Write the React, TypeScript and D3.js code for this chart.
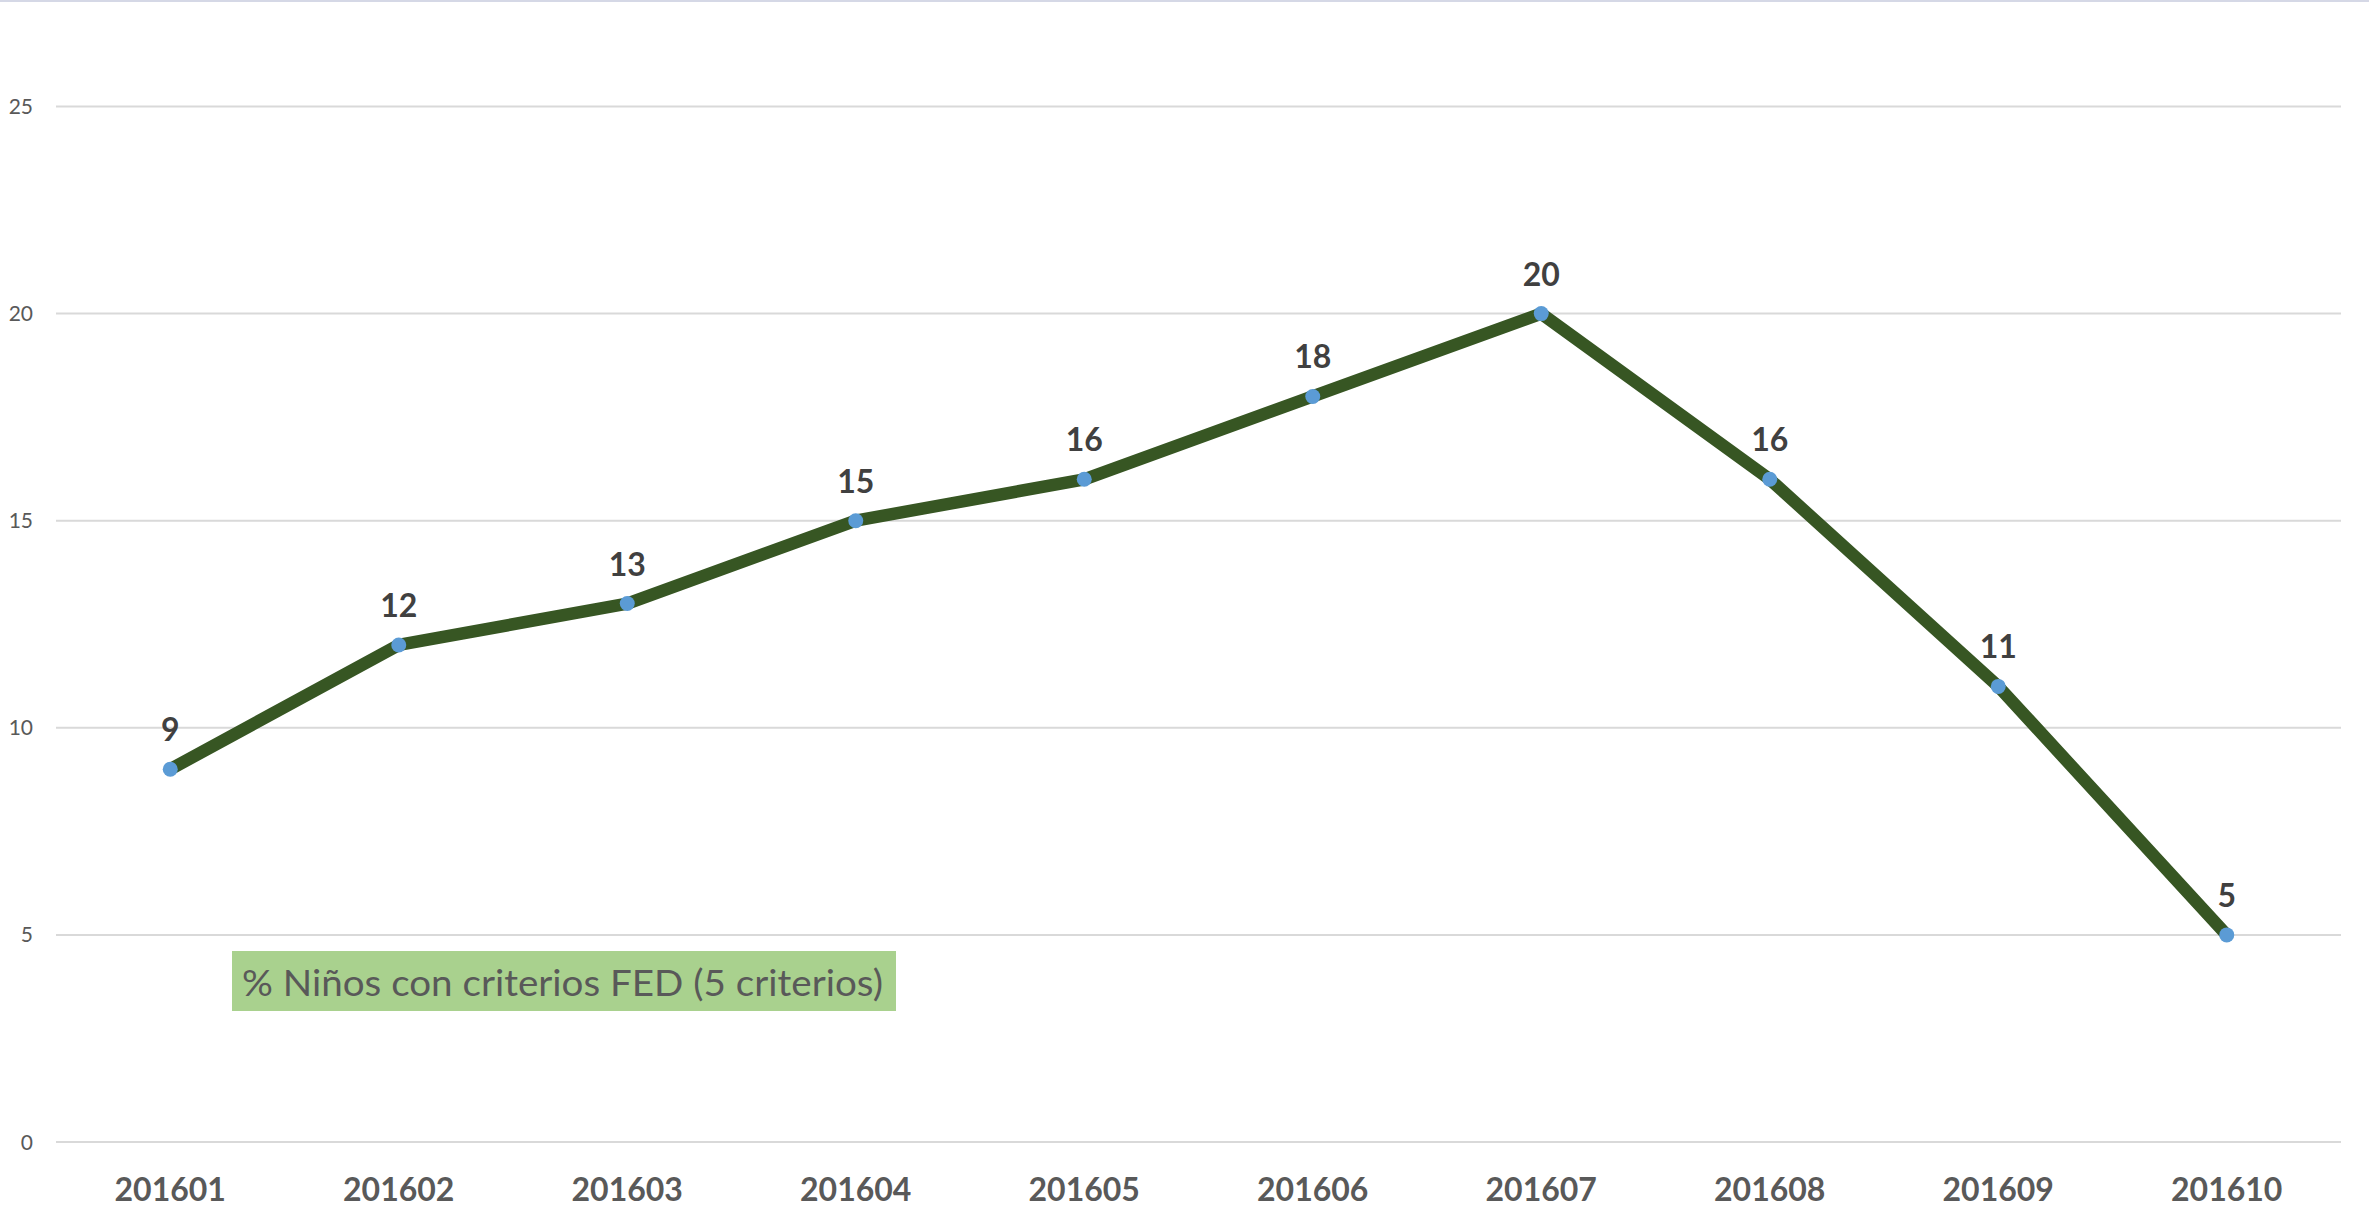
import React, { useEffect, useRef } from "react";
import * as d3 from "d3";

const months = ["201601", "201602", "201603", "201604", "201605", "201606", "201607", "201608", "201609", "201610"];
const values = [9, 12, 13, 15, 16, 18, 20, 16, 11, 5];
const yTicks = [0, 5, 10, 15, 20, 25];
const legendLabel = "% Niños con criterios FED (5 criterios)";

const W = 2369;
const H = 1225;

export default function App() {
  const ref = useRef<SVGSVGElement>(null);

  useEffect(() => {
    const svg = d3.select(ref.current);
    svg.selectAll("*").remove();

    const left = 56, right = 2341, top = 106.5, bottom = 1142;
    const font = "Lato, 'Open Sans', sans-serif";

    const x = d3.scaleBand().domain(months).range([left, right]);
    const y = d3.scaleLinear().domain([0, 25]).range([bottom, top]);
    const cx = (m: string) => (x(m) as number) + x.bandwidth() / 2;

    // border line at top
    svg.append("line")
      .attr("x1", 0).attr("x2", W).attr("y1", 1).attr("y2", 1)
      .attr("stroke", "#d5d8e6").attr("stroke-width", 2);

    // grid
    svg.append("g").selectAll("line")
      .data(yTicks)
      .join("line")
      .attr("x1", left).attr("x2", right)
      .attr("y1", d => y(d)).attr("y2", d => y(d))
      .attr("stroke", "#d9d9d9").attr("stroke-width", 2);

    svg.append("g").selectAll("text")
      .data(yTicks)
      .join("text")
      .attr("x", 33)
      .attr("y", d => y(d))
      .attr("dy", "0.36em")
      .attr("text-anchor", "end")
      .attr("font-family", font)
      .attr("font-size", 21)
      .attr("fill", "#595959")
      .text(d => d);

    // x labels
    svg.append("g").selectAll("text")
      .data(months)
      .join("text")
      .attr("x", d => cx(d))
      .attr("y", 1201)
      .attr("text-anchor", "middle")
      .attr("font-family", font)
      .attr("font-weight", "bold")
      .attr("font-size", 32)
      .attr("fill", "#595959")
      .text(d => d);

    // line
    const line = d3.line<number>()
      .x((d, i) => cx(months[i]))
      .y(d => y(d));

    svg.append("path")
      .datum(values)
      .attr("d", line)
      .attr("fill", "none")
      .attr("stroke", "#375623")
      .attr("stroke-width", 12.5)
      .attr("stroke-linejoin", "round");

    svg.append("g").selectAll("circle")
      .data(values)
      .join("circle")
      .attr("cx", (d, i) => cx(months[i]))
      .attr("cy", d => y(d))
      .attr("r", 7.5)
      .attr("fill", "#5b9bd5");

    // data labels
    svg.append("g").selectAll("text")
      .data(values)
      .join("text")
      .attr("x", (d, i) => cx(months[i]))
      .attr("y", d => y(d) - 28)
      .attr("text-anchor", "middle")
      .attr("font-family", font)
      .attr("font-weight", "bold")
      .attr("font-size", 32)
      .attr("fill", "#404040")
      .text(d => d);

    // legend box
    const lg = svg.append("g");
    lg.append("rect")
      .attr("x", 232).attr("y", 951)
      .attr("width", 664).attr("height", 60)
      .attr("fill", "#a9d18e");
    lg.append("text")
      .attr("x", 242).attr("y", 996)
      .attr("font-family", font)
      .attr("font-size", 37)
      .attr("fill", "#595959")
      .attr("textLength", 641)
      .attr("lengthAdjust", "spacingAndGlyphs")
      .text(legendLabel);
  }, []);

  return (
    <svg
      ref={ref}
      width={W}
      height={H}
      style={{ position: "absolute", left: 0, top: 0, background: "#fff" }}
    />
  );
}
